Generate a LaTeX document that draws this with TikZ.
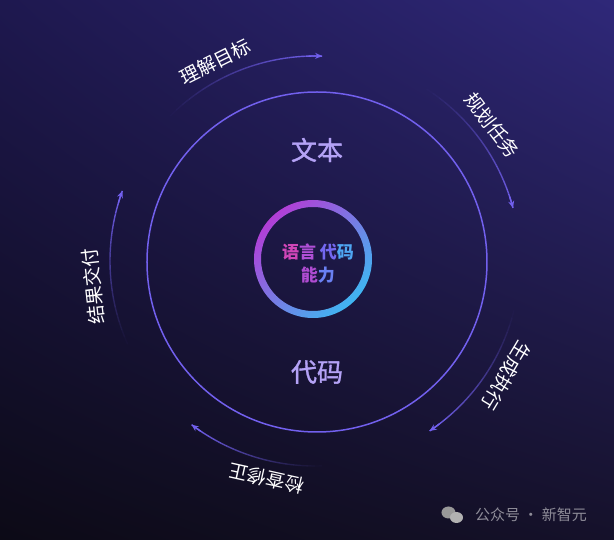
\documentclass[tikz,border=0pt]{standalone}
\usepackage{fontspec}
\setmainfont{Noto Sans CJK SC}
\newfontfamily\medcjk[FakeBold=1.3]{Noto Sans CJK SC}
\usetikzlibrary{arrows.meta,shadings}
\definecolor{bgtl}{HTML}{1E184F}
\definecolor{bgtr}{HTML}{2F2879}
\definecolor{bgbl}{HTML}{0C0A16}
\definecolor{bgbr}{HTML}{15112A}
\definecolor{loopline}{HTML}{7260EE}
\definecolor{wordcol}{HTML}{B4A2F6}
\definecolor{ringpink}{HTML}{B23ED6}
\definecolor{ringcyan}{HTML}{3FB6F2}
\definecolor{markgray}{HTML}{8E8C98}
\begin{document}
\begin{tikzpicture}[x=1pt,y=1pt,every node/.style={inner sep=0pt}]
	\tikzstyle{flowline}=[loopline,line width=1.4pt]
	\tikzstyle{looplabel}=[text=white,font=\fontsize{19}{19}\selectfont]
	\tikzstyle{bigword}=[text=wordcol,font=\medcjk\fontsize{26}{26}\selectfont]
	\shade[upper left=bgtl,upper right=bgtr,lower left=bgbl,lower right=bgbr] (-315,-279) rectangle (299,261);
	\useasboundingbox (-315,-279) rectangle (299,261);
	\coordinate (c) at (0,0);
	% big circle and gradient ring
	\draw[loopline,line width=1.5pt] (2,-1) circle (170);
	\shade[even odd rule,top color=ringpink,bottom color=ringcyan,shading angle=45] (-2,2) circle (59) (-2,2) circle (52);
	\node[bigword] (txt) at (2,111) {文本};
	\node[bigword] (code) at (2,-111) {代码};
	\node[font=\bfseries\fontsize{17}{23}\selectfont,align=center] (core) at (3,-3)
	  {\textcolor[HTML]{D046B8}{语}\textcolor[HTML]{B050D6}{言} \textcolor[HTML]{7468F0}{代}\textcolor[HTML]{4FA6F2}{码}\\
	   \textcolor[HTML]{B04CD2}{能}\textcolor[HTML]{6A80F2}{力}};
	% outer loop arcs, faded at the start
	\foreach \a/\b in {135/88, 57/15, -14/-56, -88/-127, 204/160}{
	  \foreach \k in {1,...,20}{
	    \pgfmathsetmacro\op{(\k/20)^1.2}
	    \pgfmathsetmacro\sa{\a+(\b-\a)*(\k-1)/20}
	    \pgfmathsetmacro\ea{\a+(\b-\a)*\k/20}
	    \draw[flowline,opacity=\op] (\sa:205) arc[start angle=\sa,end angle=\ea,radius=205];
	  }
	  \pgfmathsetmacro\ta{\b+(\a-\b)*0.08}
	  \draw[flowline,-{Stealth[length=7pt,width=6pt]}] (\ta:205) arc[start angle=\ta,end angle=\b,radius=205];
	}
	\foreach \ang/\txt [count=\i] in {116.6/理解目标, 37.5/规划任务, -31/生成执行, -102.6/检查修正, 186.5/结果交付}
	  \node[looplabel,rotate=\ang-90] (step\i) at (\ang:223) {\txt};
	% watermark
	\fill[gray!80] (133.5,-251.5) ellipse (7 and 6);
	\fill[gray!60] (141.5,-256.5) ellipse (6.5 and 5.5);
	\node[text=markgray,font=\fontsize{15}{15}\selectfont] (mark) at (216,-254) {公众号 · 新智元};
\end{tikzpicture}
\end{document}
